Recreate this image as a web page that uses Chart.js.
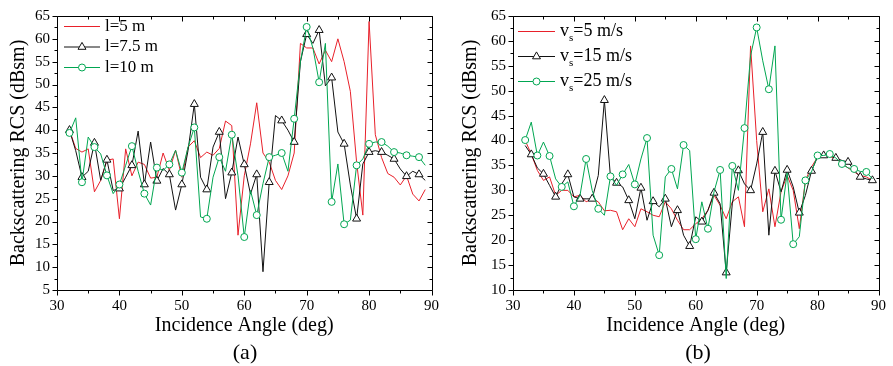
<!DOCTYPE html>
<html lang="en">
<head>
    <meta charset="UTF-8">
    <title>Backscattering RCS vs Incidence Angle</title>
    <script src="https://cdn.jsdelivr.net/npm/chart.js"></script>
    <style>
        body { margin: 0; background: #fff; }
        #wrap { position: relative; width: 893px; height: 366px; }
        canvas { position: absolute; top: 0; }
        .cap { position: absolute; top: 339px; font: 22px 'Liberation Serif', 'Times New Roman', serif;
               line-height: 26px; transform: translateX(-50%); color: #000; }
    </style>
</head>
<body>
    <div id="wrap">
        <canvas id="chartA" style="left:0" width="446" height="366"></canvas>
        <canvas id="chartB" style="left:446px" width="447" height="366"></canvas>
        <div class="cap" style="left:245px">(a)</div>
        <div class="cap" style="left:698px">(b)</div>
    </div>

    <script>
        // incidence angles (deg)
        const angles = [32,33,34,35,36,37,38,39,40,41,42,43,44,45,46,47,48,49,50,51,
                        52,53,54,55,56,57,58,59,60,61,62,63,64,65,66,67,68,69,70,71,
                        72,73,74,75,76,77,78,79,80,81,82,83,84,85,86,87,88,89];

        // (a) different l
        const l5 = [40,36,35.2,35.9,26.5,29,33.4,33.7,20.6,35.9, 30,33,32.5,29.5,29.7,35,31.2,35.6,29.7,36.3,
                    37.7,34,35.2,34.5,36,42,41,17,30,37, 46,35,33,29,27,30,35,59,58,58,
                    54.5,57.5,55,60,55,48.5,33,21.4,63.8,39, 34,30.5,29.7,28,30,26,24.5,27];
        const l75 = [40,35.5,29.7,31,37.2,29,33.5,26.8,27.2,29.7, 32.3,39.8,28.1,37.4,28.9,31.6,30.3,22.5,28.1,35.6,
                     45.7,29.7,27,36.3,39.6,25,30.7,38.5,32.5,26, 30.3,9,28.6,43.2,42.1,40,37.4,55,61,59,
                     61.9,49.7,51.5,39.6,37,28,20.6,32.6,35.2,35.5, 35.2,34.5,33.7,31.5,29.9,31,30.3,29];
        const l10 = [39.4,42.7,28.6,38.5,36.3,34.8,30.1,26.1,28.1,32.3, 36.5,31,26.1,23.6,31.8,31.2,32.5,35.6,30.7,36.3,
                     40.6,21,20.6,29.7,34.1,31,39,30,16.6,26.8, 21.4,28.3,34.1,34.5,35,31,42.5,55,62.6,58,
                     50.5,59,24.3,32.6,19.4,20.3,32.3,33.7,37,37.4, 37.4,36.5,35.2,35,34.5,34.3,34.1,32.3];

        // (b) different vs
        const v5 = [40,37.3,34,32,32.7,29,30,30,28.7,29, 27.7,28.3,27.7,25.9,26,25.7,22.1,24.3,22.7,26.3,
                    25.7,25,24.7,27.7,26.3,24,22.1,22.1,23.3,24.3, 26,29,27,24.3,27.7,28.7,22.7,59,40,25.7,
                    30.3,22.7,29.7,33,30,22.3,32,34.7,36.7,37, 36.8,36.3,35.5,34.5,33.7,33,32.7,32];
        const v15 = [39,37.2,34.5,33.3,31,28.7,31.3,33.2,28.7,28.3, 28.3,28.3,33,48.1,32.7,31.5,30.7,28,24.3,30.5,
                     24,27.8,26.7,28.3,22.7,26,21,18.8,24.7,23.7, 26,29.5,27.3,13.5,27.3,34,31.3,30,35.3,41.7,
                     21,33.9,29.7,34.1,30.7,25.5,29,33.9,36.7,37, 37,36.5,36,35.7,34,32.7,32.3,32];
        const v25 = [40.1,43.7,37,39.7,36.9,32.3,30.7,31.7,26.8,29, 36.3,30,26.3,25,32.8,31,33.2,35.2,31.2,36.3,
                     40.5,21,17,32.7,34.3,30.3,39.1,38,20.2,27.7, 22.3,29.7,34.1,12.3,34.9,30,42.5,57,62.7,56,
                     50.3,59,24.1,33.5,19.2,20.7,32,33.7,37,37, 37.3,36.5,35.3,34.5,34.3,33.8,33.7,32.3];

        const serif = "'Liberation Serif', 'Times New Roman', serif";
        const RED = '#e8202a', BLACK = '#111', GREEN = '#00a651';

        // markers only on every other point
        function markRadius(parity, r) {
            return ctx => (angles[ctx.dataIndex] % 2 === parity ? r : 0);
        }

        function series(label, values, color, mark, parity, order) {
            return {
                label: label,
                data: angles.map((a, i) => ({ x: a, y: values[i] })),
                borderColor: color,
                borderWidth: 1,
                pointStyle: mark || 'circle',
                pointRadius: mark ? markRadius(parity, mark === 'triangle' ? 4.6 : 3.5) : 0,
                pointHoverRadius: 0,
                pointBorderColor: color,
                pointBackgroundColor: '#fff',
                pointBorderWidth: 1,
                tension: 0,
                order: order,
                mark: mark
            };
        }

        // box + in/out ticks like the original plot
        const frameTicks = {
            id: 'frameTicks',
            afterDraw(chart) {
                const { ctx, chartArea: a } = chart;
                const sx = chart.scales.x, sy = chart.scales.y;
                const L = Math.round(a.left) + .5, R = Math.round(a.right) + .5;
                const T = Math.round(a.top) + .5, B = Math.round(a.bottom) + .5;
                ctx.save();
                ctx.strokeStyle = '#000';
                ctx.lineWidth = 1;
                ctx.beginPath();
                ctx.rect(L, T, R - L, B - T);
                for (let v = sx.min; v <= sx.max; v += 5) {
                    const px = Math.round(sx.getPixelForValue(v)) + .5;
                    const len = v % 10 === 0 ? 5 : 3;
                    ctx.moveTo(px, B); ctx.lineTo(px, B + len);
                    ctx.moveTo(px, T); ctx.lineTo(px, T + len);
                }
                for (let v = sy.min; v <= sy.max; v += 2.5) {
                    const py = Math.round(sy.getPixelForValue(v)) + .5;
                    const len = v % 5 === 0 ? 5 : 3;
                    ctx.moveTo(L, py); ctx.lineTo(L - len, py);
                    ctx.moveTo(R, py); ctx.lineTo(R - len, py);
                }
                ctx.stroke();
                ctx.restore();
            }
        };

        // legend drawn inside the plot, top left
        const boxLegend = {
            id: 'boxLegend',
            afterDatasetsDraw(chart, args, o) {
                const ctx = chart.ctx;
                ctx.save();
                chart.data.datasets.forEach((ds, i) => {
                    const y = o.top + i * o.gap + .5;
                    ctx.strokeStyle = ds.borderColor;
                    ctx.lineWidth = 1;
                    ctx.beginPath();
                    ctx.moveTo(o.left, y); ctx.lineTo(o.left + o.len, y);
                    ctx.stroke();
                    const cx = o.left + o.len / 2;
                    if (ds.mark) {
                        ctx.fillStyle = '#fff';
                        ctx.beginPath();
                        if (ds.mark === 'triangle') {
                            const r = 4.6;
                            for (let k = 0; k < 3; k++) {
                                const ang = k * 2 * Math.PI / 3;
                                const px = cx + Math.sin(ang) * r, py = y - Math.cos(ang) * r;
                                k === 0 ? ctx.moveTo(px, py) : ctx.lineTo(px, py);
                            }
                            ctx.closePath();
                        } else {
                            ctx.arc(cx, y, 3.5, 0, Math.PI * 2);
                        }
                        ctx.fill();
                        ctx.stroke();
                    }
                    // label, "_x" marks a subscript
                    ctx.fillStyle = '#000';
                    ctx.textBaseline = 'middle';
                    let x = o.left + o.len + o.gapText;
                    const parts = ds.label.split('_');
                    ctx.font = o.size + 'px ' + serif;
                    ctx.fillText(parts[0], x, y);
                    x += ctx.measureText(parts[0]).width;
                    if (parts.length > 1) {
                        const sub = parts[1].charAt(0), rest = parts[1].slice(1);
                        ctx.font = Math.round(o.size * 0.62) + 'px ' + serif;
                        ctx.fillText(sub, x, y + o.size * 0.38);
                        x += ctx.measureText(sub).width;
                        ctx.font = o.size + 'px ' + serif;
                        ctx.fillText(rest, x, y);
                    }
                });
                ctx.restore();
            }
        };

        function makeOptions(p) {
            const tickFont = { family: serif, size: 15 };
            const titleFont = { family: serif, size: 20 };
            return {
                responsive: false,
                animation: false,
                devicePixelRatio: 1,
                layout: { padding: { top: 15, right: p.rightPad, bottom: 0, left: 0 } },
                plugins: {
                    legend: { display: false },
                    tooltip: { enabled: false },
                    boxLegend: p.legend
                },
                scales: {
                    x: {
                        type: 'linear', min: 30, max: 90,
                        ticks: { stepSize: 10, font: tickFont, color: '#000', padding: 7, maxRotation: 0 },
                        grid: { display: false, drawTicks: false },
                        border: { display: false },
                        title: { display: true, text: 'Incidence Angle (deg)', font: titleFont, color: '#000',
                                 padding: { top: 0, bottom: 28 } },
                        afterFit: s => { s.height = 76; }
                    },
                    y: {
                        min: p.yMin, max: p.yMax,
                        ticks: { stepSize: 5, font: tickFont, color: '#000', padding: 7 },
                        grid: { display: false, drawTicks: false },
                        border: { display: false },
                        title: { display: true, text: 'Backscattering RCS (dBsm)', font: titleFont, color: '#000',
                                 padding: { top: p.yTitlePad, bottom: 0 } },
                        afterFit: s => { s.width = p.yWidth; }
                    }
                }
            };
        }

        new Chart(document.getElementById('chartA'), {
            type: 'line',
            data: {
                datasets: [
                    series('l=5 m', l5, RED, null, 0, 2),
                    series('l=7.5 m', l75, BLACK, 'triangle', 0, 1),
                    series('l=10 m', l10, GREEN, 'circle', 0, 0)
                ]
            },
            options: makeOptions({ yMin: 5, yMax: 65, yWidth: 57, yTitlePad: 7, rightPad: 14,
                legend: { left: 64, top: 26, gap: 20.5, len: 36, gapText: 5, size: 17 } }),
            plugins: [frameTicks, boxLegend]
        });

        new Chart(document.getElementById('chartB'), {
            type: 'line',
            data: {
                datasets: [
                    series('v_s=5 m/s', v5, RED, null, 0, 2),
                    series('v_s=15 m/s', v15, BLACK, 'triangle', 1, 1),
                    series('v_s=25 m/s', v25, GREEN, 'circle', 0, 0)
                ]
            },
            options: makeOptions({ yMin: 10, yMax: 65, yWidth: 67, yTitlePad: 13, rightPad: 10,
                legend: { left: 72, top: 31, gap: 25, len: 37, gapText: 5, size: 18 } }),
            plugins: [frameTicks, boxLegend]
        });
    </script>
</body>
</html>
